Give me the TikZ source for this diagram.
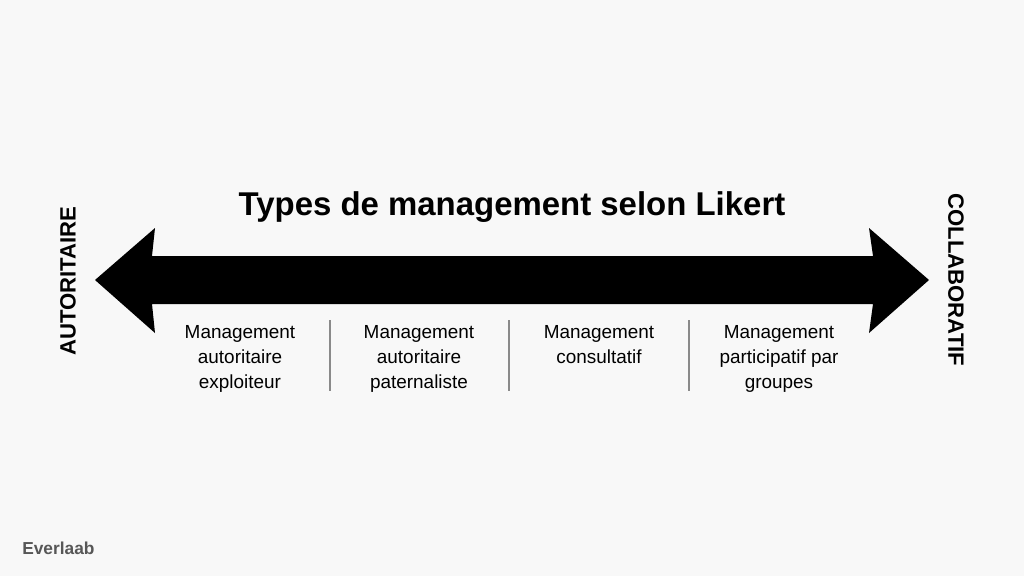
\documentclass[tikz,border=0pt]{standalone}
\usepackage{fontspec}
\setmainfont{Liberation Sans}
\definecolor{bgc}{HTML}{F8F8F8}
\definecolor{sepc}{HTML}{8A8A8A}
\definecolor{logoc}{HTML}{575757}
\begin{document}
\begin{tikzpicture}[x=0.75pt,y=-0.75pt,
  label/.style={align=center,anchor=north,inner sep=0pt,font=\fontsize{14.2}{18.75}\selectfont,text=black},
  side/.style={inner sep=0pt,font=\fontsize{16.6}{20}\selectfont\bfseries},
  sep/.style={draw=sepc,line width=0.9pt}]
\fill[bgc] (0,0) rectangle (1024,576);
\useasboundingbox (0,0) rectangle (1024,576);
% double arrow
\fill[black] (95,280) -- (155,228) -- (152,256) -- (873,256) -- (869,228) -- (929,280)
  -- (869,333) -- (873,304) -- (152,304) -- (155,333) -- cycle;
\node[anchor=base,inner sep=0pt,font=\fontsize{24.7}{28}\selectfont\bfseries] (title) at (512,215) {Types de management selon Likert};
\node[side,rotate=90] (aut) at (68,281) {AUTORITAIRE};
\node[side,rotate=-90] (col) at (956,280) {COLLABORATIF};
\node[label] (l1) at (240,325) {Management\\autoritaire\\exploiteur};
\node[label] (l2) at (419,325) {Management\\autoritaire\\paternaliste};
\node[label] (l3) at (599,325) {Management\\consultatif};
\node[label] (l4) at (779,325) {Management\\participatif par\\groupes};
\draw[sep] (330,320) -- (330,391);
\draw[sep] (509,320) -- (509,391);
\draw[sep] (689,320) -- (689,391);
\node[anchor=base west,inner sep=0pt,text=logoc,font=\fontsize{13}{15}\selectfont\bfseries] (logo) at (22,554) {Everlaab};
\end{tikzpicture}
\end{document}
